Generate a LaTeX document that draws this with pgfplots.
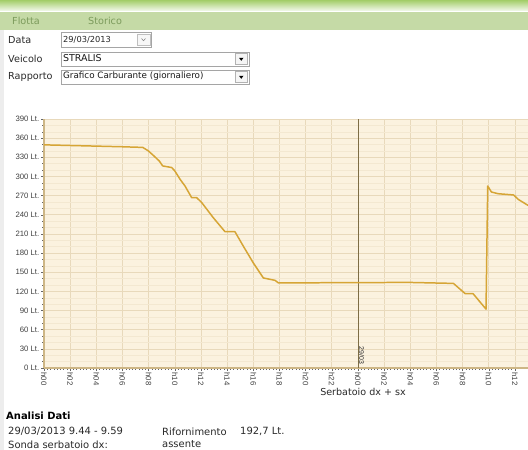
\documentclass[border=0pt]{standalone}
\usepackage{pgfplots}
\pgfplotsset{compat=1.18}
\usepackage{fontspec}
\setmainfont{DejaVu Sans}
\newfontfamily\tickfont{Liberation Sans}
\newcommand\fs[1]{\fontsize{#1}{#1}\selectfont}
\definecolor{plotbg}{HTML}{FBF2DF}
\definecolor{gridmaj}{HTML}{E8D9BB}
\definecolor{gridmin}{HTML}{F3E8D1}
\definecolor{fuel}{HTML}{D6A535}
\definecolor{axisc}{HTML}{CDB685}
\definecolor{daylinec}{HTML}{7D6D45}
\definecolor{tabbar}{HTML}{C5DAA6}
\definecolor{tabtext}{HTML}{7C9B5C}
\definecolor{topgreen}{HTML}{A2CD68}
\definecolor{boxborder}{HTML}{A5A5A5}
\definecolor{txt}{HTML}{2A2A2A}
\begin{document}
\begin{tikzpicture}[x=1bp,y=1bp]
\useasboundingbox (0,0) rectangle (528,450);
\clip (0,0) rectangle (528,450);
\fill[white] (0,0) rectangle (528,450);
\shade[top color=topgreen, bottom color=topgreen!12] (0,439) rectangle (528,450);
\fill[black!7] (0,0) rectangle (4,420);
\begin{scope}[shift={(0,450)},yscale=-1]
 \fill[tabbar] (0,12) rectangle (528,30);
 \node[anchor=west, inner sep=0, text=tabtext, font=\fs{9.7}] at (12,21) {Flotta};
 \node[anchor=west, inner sep=0, text=tabtext, font=\fs{9.7}] at (88,21) {Storico};
 % form labels
 \node[anchor=west, inner sep=0, text=txt, font=\fs{9.7}] at (8,40) {Data};
 \node[anchor=west, inner sep=0, text=txt, font=\fs{9.7}] at (8,59) {Veicolo};
 \node[anchor=west, inner sep=0, text=txt, font=\fs{9.7}] at (8,77) {Rapporto};
 % date box
 \draw[boxborder, fill=white, line width=0.6pt] (61,32) rectangle (151.5,47);
 \draw[black!25, fill=black!3, line width=0.5pt] (137,34) rectangle (150,45);
 \draw[black!45, line width=0.6pt] (141.5,38.5) -- (143.5,40.8) -- (145.5,38.5);
 \node[anchor=west, inner sep=0, text=black!85, font=\fs{8.3}] at (63,39.5) {29/03/2013};
 % veicolo box
 \draw[boxborder, fill=white, line width=0.6pt] (61,52) rectangle (249,66);
 \draw[black!30, fill=black!4, line width=0.5pt] (235,53.5) rectangle (247.5,64.5);
 \fill[black] (239,57.8) -- (243.5,57.8) -- (241.25,60.8) -- cycle;
 \node[anchor=west, inner sep=0, text=black!90, font=\fs{9.5}] at (63,58.5) {STRALIS};
 % rapporto box
 \draw[boxborder, fill=white, line width=0.6pt] (61,70) rectangle (249,84);
 \draw[black!30, fill=black!4, line width=0.5pt] (235,71.5) rectangle (247.5,82.5);
 \fill[black] (239,75.8) -- (243.5,75.8) -- (241.25,78.8) -- cycle;
 \node[anchor=west, inner sep=0, text=black!90, font=\fs{8.8}] at (63,76.5) {Grafico Carburante (giornaliero)};
 % x label
 \node[inner sep=0, text=txt, font=\fs{9.6}] at (363,392) {Serbatoio dx + sx};
 % bottom analysis
 \node[anchor=west, inner sep=0, text=black, font=\bfseries\fs{10}] at (6,416) {Analisi Dati};
 \node[anchor=west, inner sep=0, text=txt, font=\fs{10}] at (8,431.5) {29/03/2013 9.44 - 9.59};
 \node[anchor=west, inner sep=0, text=txt, font=\fs{10}] at (162,431.5) {Rifornimento};
 \node[anchor=west, inner sep=0, text=txt, font=\fs{10}] at (240,431.5) {192,7 Lt.};
 \node[anchor=west, inner sep=0, text=txt, font=\fs{10}] at (8,444.3) {Sonda serbatoio dx:};
 \node[anchor=west, inner sep=0, text=txt, font=\fs{10}] at (162,444.3) {assente};
\end{scope}
\begin{axis}[
 at={(44bp,82bp)}, anchor=origin, scale only axis, width=484bp, height=249bp,
 xmin=0, xmax=37, ymin=0, ymax=390,
 axis background/.style={fill=plotbg},
 axis x line*=bottom, axis y line*=left,
 x axis line style={draw=axisc, line width=1.2pt, -},
 y axis line style={draw=axisc, line width=1.2pt, -},
 xtick={0,2,...,36},
 xticklabels={h00,h02,h04,h06,h08,h10,h12,h14,h16,h18,h20,h22,h00,h02,h04,h06,h08,h10,h12},
 ytick={0,30,...,390},
 yticklabels={0 Lt.,30 Lt.,60 Lt.,90 Lt.,120 Lt.,150 Lt.,180 Lt.,210 Lt.,240 Lt.,270 Lt.,300 Lt.,330 Lt.,360 Lt.,390 Lt.},
 minor y tick num=2, minor x tick num=7,
 xmajorgrids, ymajorgrids, yminorgrids,
 major grid style={gridmaj, line width=0.6pt},
 minor grid style={gridmin, line width=0.5pt},
 tick align=outside,
 major tick length=3bp, minor tick length=2bp,
 tick style={color=black!60, line width=0.5pt},
 x tick label style={rotate=-90, anchor=west, font=\tickfont\fs{7.8}, text=black!75, inner sep=1.2bp},
 y tick label style={font=\tickfont\fs{7.8}, text=black!75, inner sep=1.5bp},
]
\addplot[daylinec, line width=0.8pt] coordinates {(24,0) (24,390)};
\node[rotate=-90, anchor=south east, font=\tickfont\fs{7}, text=black!80, inner sep=0.8bp] at (axis cs:24,4) {29/03};
\addplot[fuel, line width=1.5pt, line join=round] coordinates {
(0,349.5) (3,348) (6,346.5) (7.55,345.5) (7.98,340) (8.41,332) (8.82,324)
(9.07,316.5) (9.76,314) (10.0,308.7) (10.4,295.6) (10.78,285) (11.29,266.8)
(11.67,266.8) (12.06,259) (12.94,235.4) (13.84,213.4) (14.6,213.4) (15.24,190.7)
(16.0,164.6) (16.77,141) (17.66,137.3) (17.92,133.2) (24,133.8) (28,134)
(31.3,132.5) (32.2,116.4) (32.8,116.4) (33.79,92.2) (33.92,285) (34.2,275.7)
(34.7,273) (35.9,271) (36.26,264) (37,254.7)
};
\end{axis}
\end{tikzpicture}
\end{document}
